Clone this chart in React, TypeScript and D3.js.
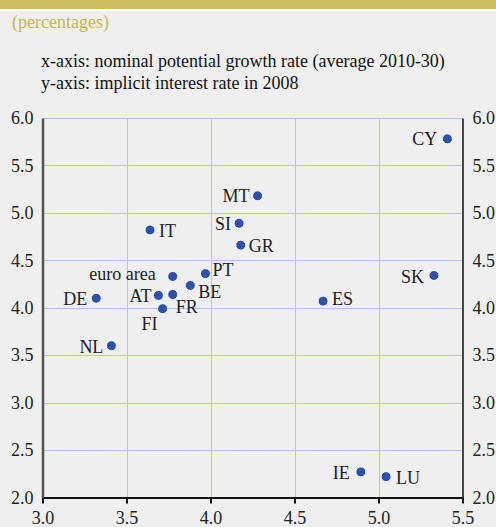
import React, {useEffect, useRef} from 'react';
import * as d3 from 'd3';

// country codes and values
const countries = ['CY', 'MT', 'SI', 'GR', 'IT', 'PT', 'euro area', 'BE', 'AT', 'FR', 'FI', 'DE', 'NL', 'SK', 'ES', 'IE', 'LU'];
const growth = [5.41, 4.28, 4.17, 4.18, 3.64, 3.97, 3.775, 3.88, 3.69, 3.775, 3.715, 3.32, 3.41, 5.33, 4.67, 4.895, 5.045];
const interest = [5.78, 5.18, 4.89, 4.66, 4.82, 4.36, 4.33, 4.235, 4.13, 4.14, 3.99, 4.10, 3.60, 4.34, 4.07, 2.27, 2.22];

// label placement: [dx, dy, anchor]
const labelPos: [number, number, string][] = [
    [-10, 0, 'end'],
    [-8, 0, 'end'],
    [-8, 0, 'end'],
    [8, 1, 'start'],
    [9, 1, 'start'],
    [7, -4, 'start'],
    [-17, -3, 'end'],
    [8, 6, 'start'],
    [-7, 0, 'end'],
    [3, 12, 'start'],
    [-5, 15, 'end'],
    [-9, 0, 'end'],
    [-8, 1, 'end'],
    [-10, 1, 'end'],
    [9, -2, 'start'],
    [-11, 1, 'end'],
    [10, 1, 'start'],
];

const xTicks = [3.0, 3.5, 4.0, 4.5, 5.0, 5.5];
const yTicks = [2.0, 2.5, 3.0, 3.5, 4.0, 4.5, 5.0, 5.5, 6.0];

const width = 496;
const height = 527;
const font = '"Liberation Serif", "Times New Roman", serif';
const fs = 18;

function App() {
    const ref = useRef<SVGSVGElement>(null);

    useEffect(() => {
        const svg = d3.select(ref.current);
        svg.selectAll('*').remove();

        const x = d3.scaleLinear().domain([3.0, 5.5]).range([42.5, 462.5]);
        const y = d3.scaleLinear().domain([2.0, 6.0]).range([497.5, 118]);

        svg.append('rect').attr('width', width).attr('height', height).attr('fill', '#efefef');
        svg.append('rect').attr('width', width).attr('height', 9).attr('fill', '#cdbf60');
        svg.append('rect').attr('y', 9).attr('width', width).attr('height', 2).attr('fill', '#ffffff');

        svg.append('text')
            .attr('x', 12).attr('y', 28)
            .attr('font-family', font).attr('font-size', fs)
            .attr('fill', '#c6b746')
            .text('(percentages)');

        const head = svg.append('g').attr('font-family', font).attr('font-size', fs).attr('fill', '#111');
        head.append('text').attr('x', 41).attr('y', 67).text('x-axis: nominal potential growth rate (average 2010-30)');
        head.append('text').attr('x', 41).attr('y', 88.5).text('y-axis: implicit interest rate in 2008');

        // grid
        const grid = svg.append('g').attr('stroke', '#bcc0ea').attr('stroke-width', 1);
        grid.selectAll('line.h')
            .data(yTicks.slice(1))
            .enter()
            .append('line')
            .attr('x1', x(3.0)).attr('x2', x(5.5))
            .attr('y1', (d) => Math.round(y(d)) + 0.5).attr('y2', (d) => Math.round(y(d)) + 0.5);
        grid.selectAll('line.v')
            .data(xTicks.slice(1, -1))
            .enter()
            .append('line')
            .attr('y1', y(6.0)).attr('y2', y(2.0))
            .attr('x1', (d) => Math.round(x(d)) + 0.5).attr('x2', (d) => Math.round(x(d)) + 0.5);

        // axes
        const xAxis = d3.axisBottom(x).tickValues(xTicks).tickSize(6).tickSizeOuter(0).tickFormat(d3.format('.1f'));
        const gx = svg.append('g').attr('transform', `translate(0, ${y(2.0)})`).call(xAxis);
        gx.select('.domain').attr('stroke', '#111').attr('stroke-width', 2);
        gx.selectAll('.tick line').attr('stroke', '#111').attr('stroke-width', 2);
        gx.selectAll('.tick text').attr('font-family', font).attr('font-size', fs).attr('fill', '#222').attr('dy', 0).attr('y', 26);

        const yLeft = d3.axisLeft(y).tickValues(yTicks).tickSize(0).tickPadding(9).tickFormat(d3.format('.1f'));
        const gl = svg.append('g').attr('transform', `translate(${x(3.0)}, 0)`).call(yLeft);
        gl.select('.domain').attr('stroke', '#555').attr('stroke-width', 2.5);
        gl.selectAll('.tick text').attr('font-family', font).attr('font-size', fs).attr('fill', '#222');

        const yRight = d3.axisRight(y).tickValues(yTicks).tickSize(0).tickPadding(10).tickFormat(d3.format('.1f'));
        const gr = svg.append('g').attr('transform', `translate(${x(5.5)}, 0)`).call(yRight);
        gr.select('.domain').attr('stroke', '#111').attr('stroke-width', 1.5);
        gr.selectAll('.tick text').attr('font-family', font).attr('font-size', fs).attr('fill', '#222');

        // points and labels
        const pts = svg.append('g');
        pts.selectAll('circle')
            .data(countries)
            .enter()
            .append('circle')
            .attr('cx', (_, i) => x(growth[i]))
            .attr('cy', (_, i) => y(interest[i]))
            .attr('r', 5)
            .attr('fill', '#2b50b0')
            .attr('stroke', '#ffffff')
            .attr('stroke-width', 1);

        pts.selectAll('text')
            .data(countries)
            .enter()
            .append('text')
            .attr('x', (_, i) => x(growth[i]) + labelPos[i][0])
            .attr('y', (_, i) => y(interest[i]) + labelPos[i][1])
            .attr('dy', '0.35em')
            .attr('text-anchor', (_, i) => labelPos[i][2])
            .attr('font-family', font)
            .attr('font-size', fs)
            .attr('fill', '#222')
            .text((d) => d);
    }, []);

    return <svg ref={ref} width={width} height={height} style={{position: 'absolute', left: 0, top: 0}}/>;
}

export default App;
